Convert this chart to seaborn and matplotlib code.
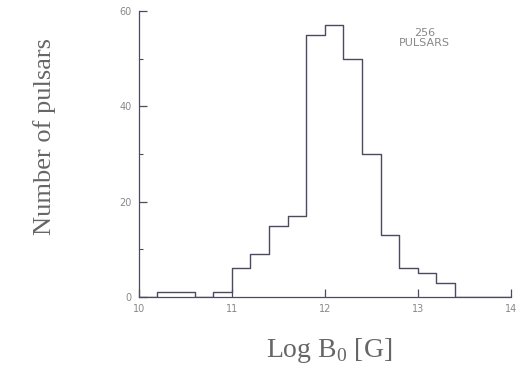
import matplotlib
matplotlib.use("Agg")
import matplotlib.pyplot as plt
import seaborn as sns
import numpy as np
import pandas as pd

# Data: histogram of log B0 (bins of 0.2 in log G)
bin_edges = [10.0, 10.2, 10.4, 10.6, 10.8, 11.0, 11.2, 11.4, 11.6, 11.8, 12.0,
             12.2, 12.4, 12.6, 12.8, 13.0, 13.2, 13.4, 13.6, 13.8, 14.0]
counts = [0, 1, 1, 0, 1, 6, 9, 15, 17, 55, 57, 50, 30, 13, 6, 5, 3, 0, 0, 0]
x_ticks = [10, 11, 12, 13, 14]
y_ticks = [0, 20, 40, 60]
annotation = "256\nPULSARS"

centers = [(a + b) / 2 for a, b in zip(bin_edges[:-1], bin_edges[1:])]
df = pd.DataFrame({"logB": centers, "n": counts})

sns.set_style("white")
fig = plt.figure(figsize=(5.16, 3.65), dpi=100)
ax = fig.add_axes([0.269, 0.186, 0.721, 0.784])

line_col = "#4a4a60"
sns.histplot(data=df, x="logB", weights="n", bins=bin_edges, element="step",
             fill=False, color=line_col, linewidth=1.0, ax=ax)

ax.set_xlim(10, 14)
ax.set_ylim(0, 60)
for s in ["top", "right"]:
    ax.spines[s].set_visible(False)
for s in ["left", "bottom"]:
    ax.spines[s].set_color(line_col)
    ax.spines[s].set_linewidth(0.9)

ax.set_xticks(x_ticks)
ax.set_yticks(y_ticks)
ax.set_yticks([10, 30, 50], minor=True)
ax.tick_params(axis="both", which="major", direction="in", length=6, width=0.9,
               color=line_col, labelsize=7, labelcolor="#888888", pad=5,
               left=True, bottom=True, top=False, right=False)
ax.tick_params(axis="y", which="minor", direction="in", length=3, width=0.8,
               color=line_col, left=True, right=False)
ax.set_xlabel("")
ax.set_ylabel("")

fig.text(0.087, 0.625, "Number of pulsars", rotation=90, ha="center", va="center",
         fontsize=19, family="Liberation Serif", color="#666666")
fig.text(0.637, 0.04, r"Log B$_\mathregular{0}$ [G]", ha="center", va="center",
         fontsize=20, family="Liberation Serif", color="#666666")
ax.text(13.07, 56.5, annotation, ha="center", va="top", fontsize=8,
        color="#888888", linespacing=1.1)

fig.savefig("out.png", dpi=100)
